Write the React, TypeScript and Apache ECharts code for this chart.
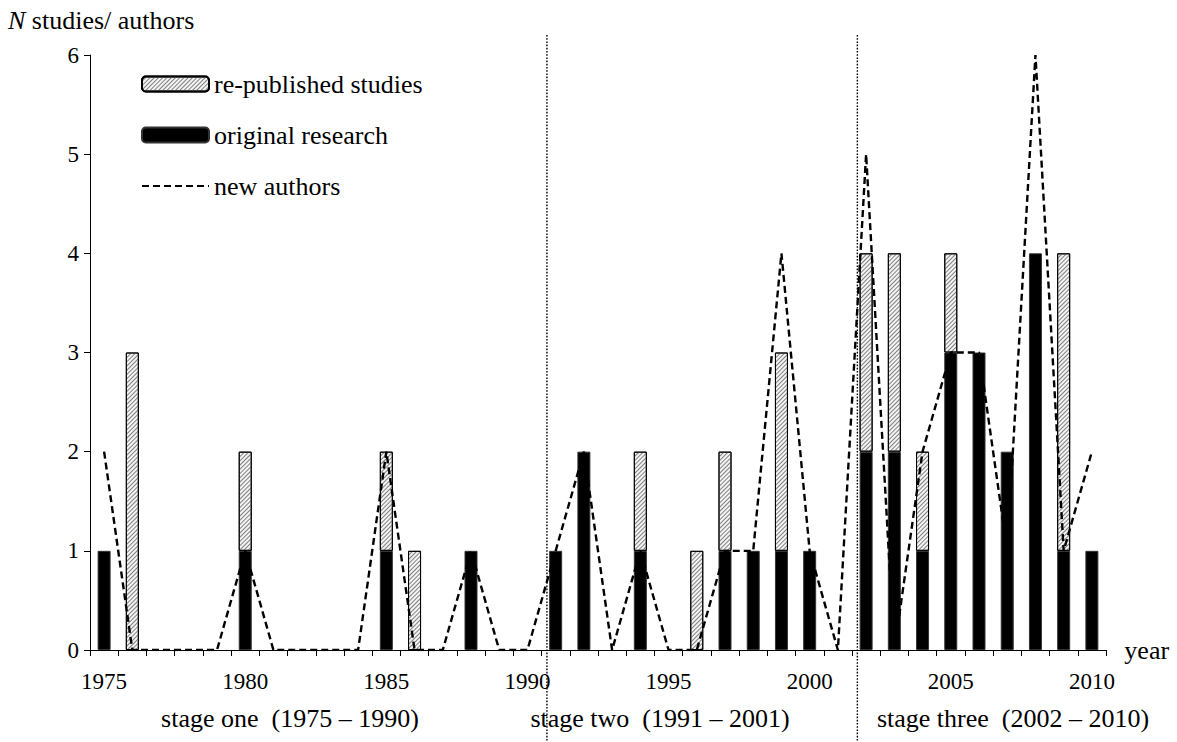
import React, { useEffect, useRef } from "react";
import * as echarts from "echarts";

const years = [
  "1975", "1976", "1977", "1978", "1979", "1980", "1981", "1982", "1983", "1984",
  "1985", "1986", "1987", "1988", "1989", "1990", "1991", "1992", "1993", "1994",
  "1995", "1996", "1997", "1998", "1999", "2000", "2001", "2002", "2003", "2004",
  "2005", "2006", "2007", "2008", "2009", "2010",
];
const originalResearch = [1, 0, 0, 0, 0, 1, 0, 0, 0, 0, 1, 0, 0, 1, 0, 0, 1, 2, 0, 1, 0, 0, 1, 1, 1, 1, 0, 2, 2, 1, 3, 3, 2, 4, 1, 1];
const republished = [0, 3, 0, 0, 0, 1, 0, 0, 0, 0, 1, 1, 0, 0, 0, 0, 0, 0, 0, 1, 0, 1, 1, 0, 2, 0, 0, 2, 2, 1, 1, 0, 0, 0, 3, 0];
const newAuthors = [2, 0, 0, 0, 0, 1, 0, 0, 0, 0, 2, 0, 0, 1, 0, 0, 1, 2, 0, 1, 0, 0, 1, 1, 4, 1, 0, 5, 0, 2, 3, 3, 1, 6, 1, 2];
const yTicks = [0, 1, 2, 3, 4, 5, 6];
const stageLabels = [
  "stage one  (1975 \u2013 1990)",
  "stage two  (1991 \u2013 2001)",
  "stage three  (2002 \u2013 2010)",
];
const dividerAfter = ["1990", "2001"];

const FONT = "'Liberation Serif', 'Times New Roman', serif";

export default function App() {
  const ref = useRef<HTMLDivElement>(null);
  useEffect(() => {
    if (!ref.current) return;
    const chart = echarts.init(ref.current, undefined, { renderer: "svg" });
    const nz = (a: number[]) => a.map((v) => (v === 0 ? null : v));
    chart.setOption({
      animation: false,
      backgroundColor: "#fff",
      textStyle: { fontFamily: FONT, color: "#000" },
      grid: { left: 90, right: 71, top: 55, bottom: 92, containLabel: false },
      legend: {
        orient: "vertical",
        left: 136,
        top: 66,
        itemWidth: 67,
        itemHeight: 15,
        itemGap: 25,
        selectedMode: false,
        data: [
          { name: "re-published studies" },
          { name: "original research" },
          { name: "new authors", itemStyle: { color: "rgba(0,0,0,0)", borderWidth: 0, opacity: 0 } },
        ],
        textStyle: { fontFamily: FONT, fontSize: 26, color: "#000", lineHeight: 26 },
      },
      xAxis: {
        type: "category",
        data: years,
        boundaryGap: true,
        axisLine: { lineStyle: { color: "#000", width: 1 } },
        axisTick: { show: true, interval: 0, length: 6, lineStyle: { color: "#000" } },
        axisLabel: { interval: 4, margin: 20, fontSize: 23, fontFamily: FONT, color: "#000" },
        splitLine: { show: false },
      },
      yAxis: {
        type: "value",
        min: yTicks[0],
        max: yTicks[yTicks.length - 1],
        interval: 1,
        axisLine: { show: true, lineStyle: { color: "#000", width: 1 } },
        axisTick: { show: true, length: 6, lineStyle: { color: "#000" } },
        axisLabel: { margin: 11, fontSize: 23, fontFamily: FONT, color: "#000" },
        splitLine: { show: false },
      },
      series: [
        {
          name: "original research",
          type: "bar",
          stack: "s",
          barWidth: 13,
          data: nz(originalResearch),
          itemStyle: { color: "#000", borderColor: "#333", borderWidth: 1 },
        },
        {
          name: "re-published studies",
          type: "bar",
          stack: "s",
          barWidth: 13,
          data: nz(republished),
          itemStyle: {
            color: "#f4f4f4",
            borderColor: "#000",
            borderWidth: 1,
            decal: {
              symbol: "rect",
              symbolSize: 1,
              color: "#808080",
              dashArrayX: [1, 0],
              dashArrayY: [1, 1.2],
              rotation: -Math.PI / 4,
            },
          },
        },
        {
          name: "new authors",
          type: "line",
          data: newAuthors,
          symbol: "none",
          z: 5,
          lineStyle: { color: "#000", width: 2.4, type: [7, 4] },
          itemStyle: { color: "#000" },
        },
      ],
    });

    const baseY = chart.convertToPixel({ yAxisIndex: 0 }, 0) as number;
    const x0 = chart.convertToPixel({ xAxisIndex: 0 }, years[0]) as number;
    const x1 = chart.convertToPixel({ xAxisIndex: 0 }, years[1]) as number;
    const step = x1 - x0;
    const lastX = chart.convertToPixel({ xAxisIndex: 0 }, years[years.length - 1]) as number;
    const divX = dividerAfter.map((y) => (chart.convertToPixel({ xAxisIndex: 0 }, y) as number) + step * 0.69);
    const dividers = divX.map((x) => ({
      type: "line",
      shape: { x1: x, y1: 35, x2: x, y2: 742 },
      style: { stroke: "#000", lineWidth: 1.4, lineDash: [1.6, 1.6] },
      z: 10,
    }));
    const centers = [290, 660, 1013];
    const stageTexts = stageLabels.map((label, i) => ({
      type: "text",
      x: centers[i],
      y: 718,
      style: {
        text: label,
        font: `26px ${FONT}`,
        fill: "#000",
        align: "center",
        verticalAlign: "middle",
      },
    }));
    chart.setOption({
      graphic: [
        ...dividers,
        ...stageTexts,
        {
          type: "text",
          x: lastX + step * 1.15,
          y: baseY,
          style: { text: "year", font: `26px ${FONT}`, fill: "#000", align: "left", verticalAlign: "middle" },
        },
        {
          type: "text",
          x: 8,
          y: 20,
          style: {
            text: "{i|N} studies/ authors",
            font: `26px ${FONT}`,
            fill: "#000",
            verticalAlign: "middle",
            rich: {
              i: { fontStyle: "italic", fontFamily: FONT, fontSize: 26, fill: "#000" },
            },
          },
        },
      ],
    });
    return () => chart.dispose();
  }, []);
  return (
    <div
      ref={ref}
      style={{ position: "fixed", left: 0, top: 0, width: 1177, height: 742, background: "#fff" }}
    />
  );
}
